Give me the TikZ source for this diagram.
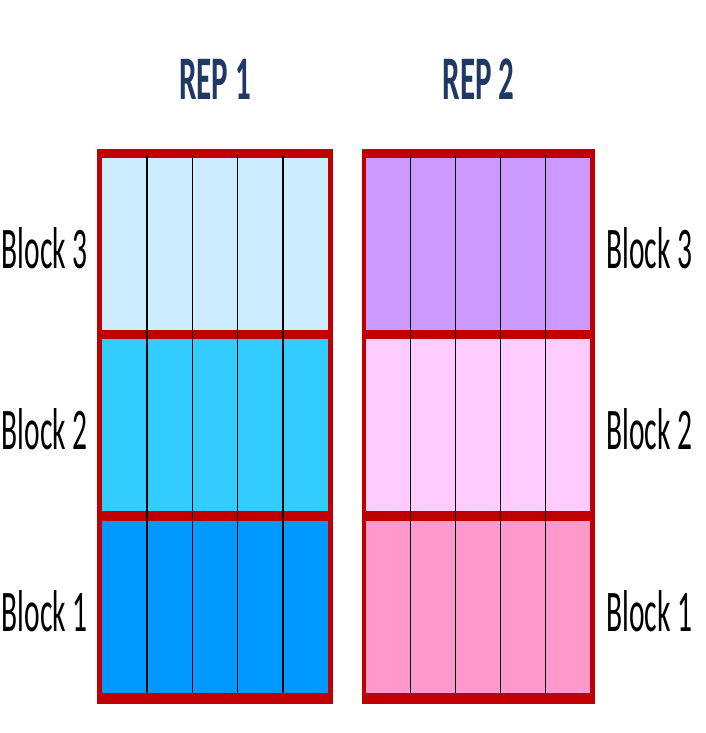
\documentclass[tikz,border=0pt]{standalone}
\usepackage{fontspec}
\setmainfont{Carlito}
\newfontfamily\narrowfont[FakeStretch=0.5]{Carlito}
\usetikzlibrary{calc,positioning}
\definecolor{repred}{HTML}{C00000}
\definecolor{repnavy}{HTML}{203864}
\definecolor{blueA}{HTML}{0099FF}
\definecolor{blueB}{HTML}{33CCFF}
\definecolor{blueC}{HTML}{CCECFF}
\definecolor{pinkA}{HTML}{FF99CC}
\definecolor{pinkB}{HTML}{FFCCFF}
\definecolor{violetC}{HTML}{CC99FF}
\tikzset{repbox/.style={fill=repred, inner sep=0pt, minimum height=555pt},
  cell/.style={inner sep=0pt, minimum height=172pt},
  blklbl/.style={inner sep=0pt, yshift=-4pt, font=\narrowfont\fontsize{59}{61}\selectfont},
  reptitle/.style={inner sep=0pt, text=repnavy, font=\narrowfont\bfseries\fontsize{62}{64}\selectfont}}

\begin{document}
\begin{tikzpicture}[x=1pt, y=-1pt]
  \useasboundingbox (0,0) rectangle (706,733);
  % red frames
  \node[repbox, minimum width=236pt] (rep1) at (215,426.5) {};
  \node[repbox, minimum width=233pt] (rep2) at (478.5,426.5) {};
  \node[reptitle, above=49pt of rep1.north, anchor=south] {REP 1};
  \node[reptitle, above=49pt of rep2.north, anchor=south] {REP 2};
  % REP 1 blocks
  \node[cell, fill=blueC, minimum width=226pt] (r1b3) at (215,244) {};
  \node[cell, fill=blueB, minimum width=226pt, below=9pt of r1b3] (r1b2) {};
  \node[cell, fill=blueA, minimum width=226pt, below=9pt of r1b2] (r1b1) {};
  % REP 2 blocks
  \node[cell, fill=violetC, minimum width=224pt] (r2b3) at (478,244) {};
  \node[cell, fill=pinkB, minimum width=224pt, below=9pt of r2b3] (r2b2) {};
  \node[cell, fill=pinkA, minimum width=224pt, below=9pt of r2b2] (r2b1) {};
  % plot columns
  \foreach \r in {r1,r2}{
    \foreach \i in {1,...,4}{
      \draw[line width=1.2pt] ($(\r b3.north west)!\i/5!(\r b3.north east)+(0,-3)$)
        -- ($(\r b1.south west)!\i/5!(\r b1.south east)$);}}
  % block labels
  \foreach \b in {1,2,3}{
    \node[blklbl, left=14pt of r1b\b] {Block \b};
    \node[blklbl, right=16pt of r2b\b] {Block \b};}
\end{tikzpicture}
\end{document}
